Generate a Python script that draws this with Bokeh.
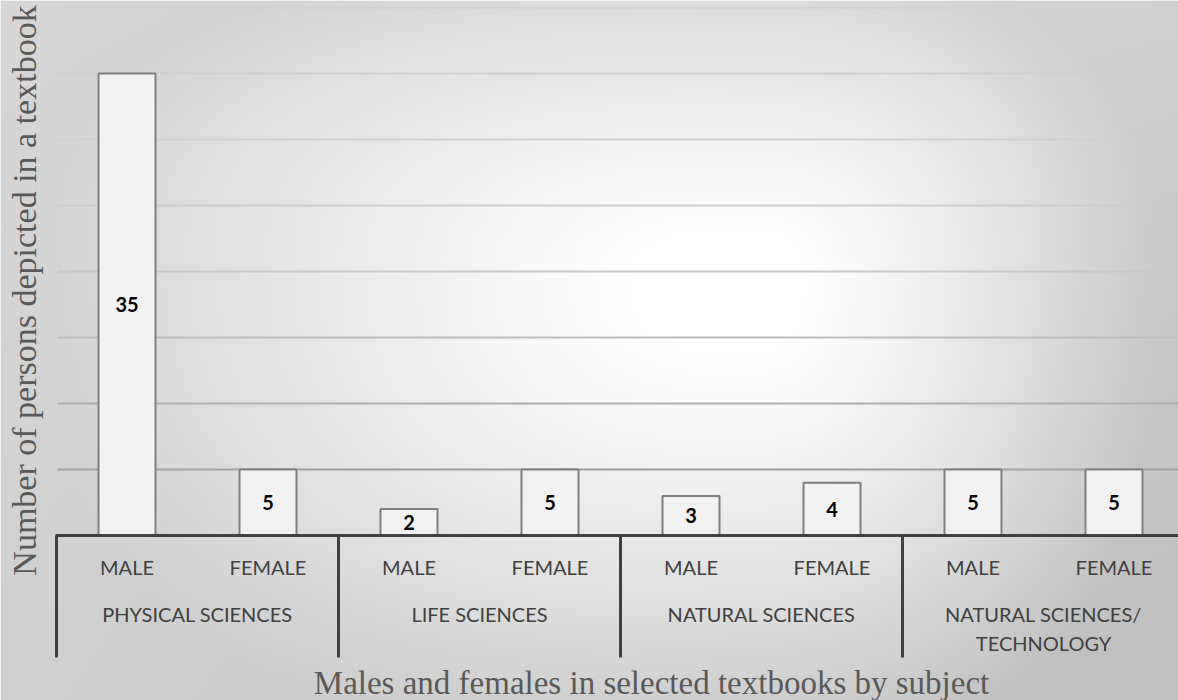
import numpy as np
from bokeh.plotting import figure
from bokeh.models import Range1d, ColumnDataSource
from bokeh.core.properties import value
from bokeh.embed import file_html
from bokeh.resources import INLINE

# ---------------- data ----------------
subjects = ["PHYSICAL SCIENCES", "LIFE SCIENCES", "NATURAL SCIENCES", "NATURAL SCIENCES/\nTECHNOLOGY"]
genders = ["MALE", "FEMALE"]
counts = [35, 5, 2, 5, 3, 4, 5, 5]
y_ticks = [5, 10, 15, 20, 25, 30, 35, 40]
x_title = "Males and females in selected textbooks by subject"
y_title = "Number of persons depicted in a textbook"

# ---------------- layout constants ----------------
W, H = 1178, 700
PX0, SLOT = 56.0, 141.0        # left edge of first slot, slot width (px)
BASE, PPU = 535.0, 13.2        # baseline pixel row, pixels per unit

def xd(px):
    return (px - PX0) / SLOT

def yd(py):
    return (BASE - py) / PPU

x0, x1 = xd(0), xd(W)
y0, y1 = yd(H), yd(0)

p = figure(width=W, height=H, x_range=Range1d(x0, x1), y_range=Range1d(y0, y1),
           output_backend="svg", toolbar_location=None, min_border=0)
p.axis.visible = False
p.grid.visible = False
p.outline_line_color = None
p.background_fill_color = "#ffffff"
p.border_fill_color = "#ffffff"

# ---------------- background gradient (style) ----------------
gw, gh = W // 2, H // 2
X = (np.arange(gw) + 0.5) * 2.0
Y = (np.arange(gh) + 0.5) * 2.0
XX, YY = np.meshgrid(X, Y)
cx, cy = 740.0, 280.0
u = np.where(XX < cx, (XX - cx) / cx, (XX - cx) / (W - cx))
v = np.where(YY < cy, (YY - cy) / (cy * 1.25), (YY - cy) / ((H - cy) * 1.2))
r = (np.abs(u) ** 2.5 + np.abs(v) ** 2.5) ** (1.0 / 2.5)
t = np.clip((r - 0.15) / 0.8, 0, 1) ** 1.1
fx, fy = XX / W, YY / H
D = (40 * (1 - fx) * (1 - fy) + 46 * fx * (1 - fy) + 46 * (1 - fx) * fy + 64 * fx * fy)
g = np.clip(255 - D * t, 0, 255).astype(np.uint32)
img = (255 << 24) | (g << 16) | (g << 8) | g
img = img[::-1].copy()  # row 0 at bottom
p.image_rgba(image=[img.view(np.uint32)], x=x0, y=y0, dw=x1 - x0, dh=y1 - y0)

# ---------------- gridlines ----------------
grid_colors = ["#a0a0a0", "#b0b0b0", "#bdbdbd", "#c8c8c8", "#cdcdcd", "#d0d0d0", "#d0d0d0", "#d2d2d2"]
p.segment(x0=[xd(57)] * len(y_ticks), x1=[x1] * len(y_ticks), y0=y_ticks, y1=y_ticks,
          line_color=grid_colors, line_width=2)

# ---------------- bars ----------------
n = len(counts)
centers = [i + 0.5 for i in range(n)]
src = ColumnDataSource(dict(x=centers, top=counts, mid=[c / 2 for c in counts],
                            lbl=[str(c) for c in counts]))
p.vbar(x="x", top="top", bottom=0, width=57 / SLOT, source=src,
       fill_color="#f2f2f2", line_color="#7f7f7f", line_width=2)
p.text(x="x", y="mid", text="lbl", source=src, text_font=value("Lato"),
       text_font_size="20px", text_font_style="bold", text_color="#000000",
       text_align="center", text_baseline="middle")

# ---------------- category axis ----------------
ngroups = len(subjects)
per = len(genders)
sep_x = [g_ * per for g_ in range(ngroups + 1)]
p.segment(x0=sep_x, x1=sep_x, y0=[0] * len(sep_x), y1=[yd(657)] * len(sep_x),
          line_color="#404040", line_width=3)
p.segment(x0=[xd(55)], x1=[x1], y0=[0], y1=[0], line_color="#404040", line_width=3)

p.text(x=centers, y=[yd(566)] * n, text=[genders[i % per] for i in range(n)],
       text_font=value("Lato"), text_font_size="20px", text_color="#404040",
       text_align="center", text_baseline="middle")

gx, gy, gt = [], [], []
for gi, s in enumerate(subjects):
    lines = s.split("\n")
    for li, ln in enumerate(lines):
        gx.append(gi * per + per / 2)
        gy.append(yd(613 + 29 * li))
        gt.append(ln)
p.text(x=gx, y=gy, text=gt, text_font=value("Lato"), text_font_size="20px",
       text_color="#404040", text_align="center", text_baseline="middle")

# ---------------- titles ----------------
p.text(x=[xd(651)], y=[yd(682)], text=[x_title], text_font=value("Liberation Serif"),
       text_font_size="33px", text_color="#595959", text_align="center",
       text_baseline="middle")
p.text(x=[xd(24)], y=[yd(290)], text=[y_title], text_font=value("Liberation Serif"),
       text_font_size="34px", text_color="#595959", text_align="center",
       text_baseline="middle", angle=np.pi / 2)

open("out.html", "w").write(file_html(p, INLINE))
